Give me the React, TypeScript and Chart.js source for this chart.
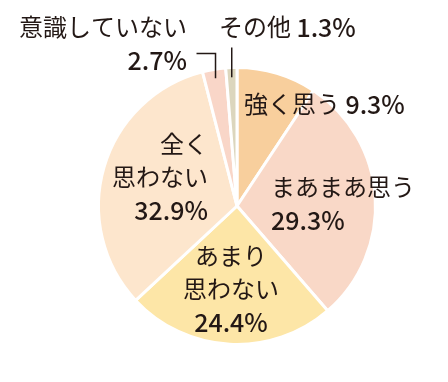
import { useEffect, useRef } from "react";
import { Chart, registerables } from "chart.js";

Chart.register(...registerables);

const categories = ["強く思う", "まあまあ思う", "あまり思わない", "全く思わない", "意識していない", "その他"];
const values = [9.3, 29.3, 24.4, 32.9, 2.7, 1.3];
const colors = ["#F8CF9D", "#F9D8C7", "#FDE6A7", "#FDE6CD", "#F9D6C8", "#DCD6BD"];

// label lines: [text, percent] runs per line, relative to pie centre
type Run = { t: string; bold?: boolean };
type Lbl = { lines: Run[][]; dx: number; dy: number; align: CanvasTextAlign };
const labels: Lbl[] = [
  { lines: [[{ t: "強く思う " }, { t: "9.3%", bold: true }]], dx: 7, dy: -102, align: "left" },
  { lines: [[{ t: "まあまあ思う" }], [{ t: "29.3%", bold: true }]], dx: 34, dy: -19, align: "left" },
  { lines: [[{ t: "あまり" }], [{ t: "思わない" }], [{ t: "24.4%", bold: true }]], dx: -6, dy: 50, align: "center" },
  { lines: [[{ t: "全く" }], [{ t: "思わない" }], [{ t: "32.9%", bold: true }]], dx: -29, dy: -62, align: "right" },
  { lines: [[{ t: "意識していない" }], [{ t: "2.7%", bold: true }]], dx: -50, dy: -179, align: "right" },
  { lines: [[{ t: "その他 " }, { t: "1.3%", bold: true }]], dx: -18, dy: -179, align: "left" },
];

const FONT = '"Noto Sans CJK JP", "Noto Sans", sans-serif';
const LINE_H = 33;

const labelPlugin = {
  id: "sliceLabels",
  afterDatasetsDraw(chart: any) {
    const meta = chart.getDatasetMeta(0);
    const arc0 = meta.data[0];
    const cx = arc0.x, cy = arc0.y, R = arc0.outerRadius;
    const ctx = chart.ctx;
    ctx.save();
    ctx.fillStyle = "#231815";
    ctx.textBaseline = "middle";
    const fontFor = (r: Run) => (r.bold ? `500 25px ${FONT}` : `400 24px ${FONT}`);
    labels.forEach((l) => {
      l.lines.forEach((line, j) => {
        let w = 0;
        line.forEach((r) => { ctx.font = fontFor(r); w += ctx.measureText(r.t).width; });
        let x = cx + l.dx;
        if (l.align === "right") x -= w;
        else if (l.align === "center") x -= w / 2;
        const y = cy + l.dy + j * LINE_H;
        ctx.textAlign = "left";
        line.forEach((r) => { ctx.font = fontFor(r); ctx.fillText(r.t, x, y); x += ctx.measureText(r.t).width; });
      });
    });
    // leader lines for small slices
    ctx.strokeStyle = "#231815";
    ctx.lineWidth = 1.5;
    const a4 = (meta.data[4].startAngle + meta.data[4].endAngle) / 2;
    const a5 = (meta.data[5].startAngle + meta.data[5].endAngle) / 2;
    const p4x = cx + Math.cos(a4) * R * 0.935;
    const p4y = cy + Math.sin(a4) * R * 0.935;
    ctx.beginPath();
    ctx.moveTo(p4x, p4y);
    ctx.lineTo(p4x, cy - R - 14);
    ctx.lineTo(p4x - 19, cy - R - 14);
    ctx.stroke();
    const p5x = cx + Math.cos(a5) * R * 0.93;
    const p5y = cy + Math.sin(a5) * R * 0.93;
    ctx.beginPath();
    ctx.moveTo(p5x, p5y);
    ctx.lineTo(p5x, cy - R - 20);
    ctx.stroke();
    ctx.restore();
  },
};

export default function App() {
  const ref = useRef<HTMLCanvasElement>(null);
  useEffect(() => {
    const chart = new Chart(ref.current!, {
      type: "pie",
      data: {
        labels: categories,
        datasets: [{ data: values, backgroundColor: colors, borderColor: "#ffffff", borderWidth: 3 }],
      },
      options: {
        animation: false,
        responsive: false,
        layout: { padding: { left: 97, right: 71, top: 66, bottom: 36 } },
        plugins: { legend: { display: false }, tooltip: { enabled: false } },
      },
      plugins: [labelPlugin],
    });
    return () => chart.destroy();
  }, []);
  return (
    <div style={{ position: "fixed", left: 0, top: 0, width: 448, height: 382, background: "#fff" }}>
      <canvas ref={ref} width={448} height={382} />
    </div>
  );
}
